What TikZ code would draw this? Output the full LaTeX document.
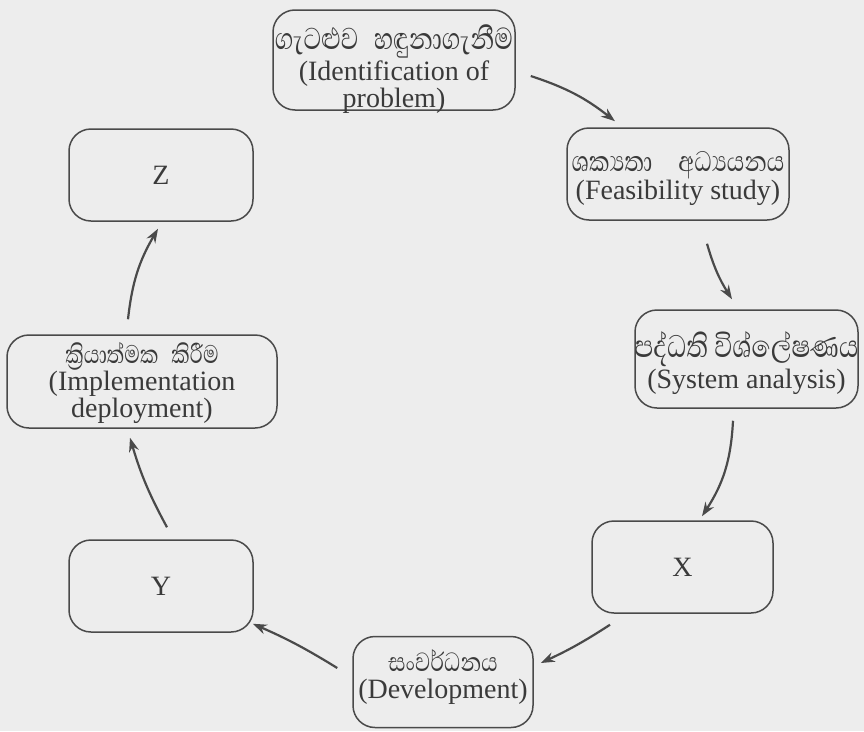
\documentclass[tikz,border=0pt]{standalone}
\usepackage{fontspec}
\usepackage{graphicx}
\setmainfont{Liberation Serif}
\newfontfamily\sinhfont[Script=Sinhala]{Abhaya Libre}
\usetikzlibrary{arrows.meta,calc}
\definecolor{paper}{HTML}{EDEDED}
\definecolor{ink}{HTML}{4A4A4A}
\definecolor{txt}{HTML}{3A3A3A}
\newcommand\sinl[2]{\scalebox{1}[1.25]{\sinhfont\fontsize{#1}{#1}\selectfont #2}}
\begin{document}
\begin{tikzpicture}[x=1pt,y=-1pt,
  box/.style={draw=ink,line width=1.5pt,rounded corners=22pt,inner sep=0pt,
    text=txt,font=\fontsize{28}{28}\selectfont},
  lbl/.style={align=center,text=txt,inner sep=0pt,font=\fontsize{28}{27}\selectfont},
  flow/.style={draw=ink,line width=2.2pt,-{Stealth[length=14pt,width=10pt]}}]
\useasboundingbox (0,0) rectangle (864,731);
\fill[paper] (0,0) rectangle (864,731);
% boxes
\node[box,minimum width=242pt,minimum height=100pt] (top) at (394,60) {};
\node[box,minimum width=222pt,minimum height=92pt] (feas) at (678,174) {};
\node[box,minimum width=223pt,minimum height=98pt] (sys) at (746.5,359) {};
\node[box,minimum width=181pt,minimum height=92pt] (X) at (682.5,567) {X};
\node[box,minimum width=180pt,minimum height=91pt] (dev) at (443,682) {};
\node[box,minimum width=184pt,minimum height=92pt] (Y) at (161,586) {Y};
\node[box,minimum width=270pt,minimum height=93pt] (impl) at (142,381.5) {};
\node[box,minimum width=184pt,minimum height=92pt] (Z) at (161,175) {Z};
% texts
\node[lbl] (topt) at (394,69) {\sinl{31}{ගැටළුව\hspace{0.5em}හඳුනාගැනීම}\\[1pt](Identification of\\problem)};
\node[lbl] (feast) at (678,178) {\sinl{29}{ශක්^^^^200dයතා\hspace{0.9em}අධ්^^^^200dයයනය}\\[1pt](Feasibility study)};
\node[lbl] (syst) at (746.5,363) {\sinl{32}{පද්ධති විශ්ලේෂණය}\\[1pt](System analysis)};
\node[lbl] (devt) at (443,677) {\sinl{27}{සංවර්ධනය}\\[0pt](Development)};
\node[lbl] (implt) at (142,383) {\sinl{26}{ක්^^^^200dරියාත්මක\hspace{0.5em}කිරීම}\\[0pt](Implementation\\deployment)};
% arrows
\draw[flow] ($(top.east)+(15,16)$) to[bend left=10] ($(feas.north)+(-63,-6)$);
\draw[flow] ($(feas.south)+(29,23)$) to[bend right=8] ($(sys.north)+(-14.5,-10)$);
\draw[flow] ($(sys.south)+(-13.5,12)$) to[bend left=15] ($(X.north)+(19.5,-4)$);
\draw[flow] ($(X.south)+(-72.5,11)$) to[bend left=4] ($(dev.east)+(7,-19)$);
\draw[flow] ($(dev.west)+(-15,-14)$) to[bend right=4] ($(Y.south east)+(-1,-9)$);
\draw[flow] ($(Y.north)+(6,-12)$) to[bend left=6] ($(impl.south)+(-12,9)$);
\draw[flow] ($(impl.north)+(-14,-15)$) to[bend left=12] ($(Z.south)+(-3,7)$);
\end{tikzpicture}
\end{document}
